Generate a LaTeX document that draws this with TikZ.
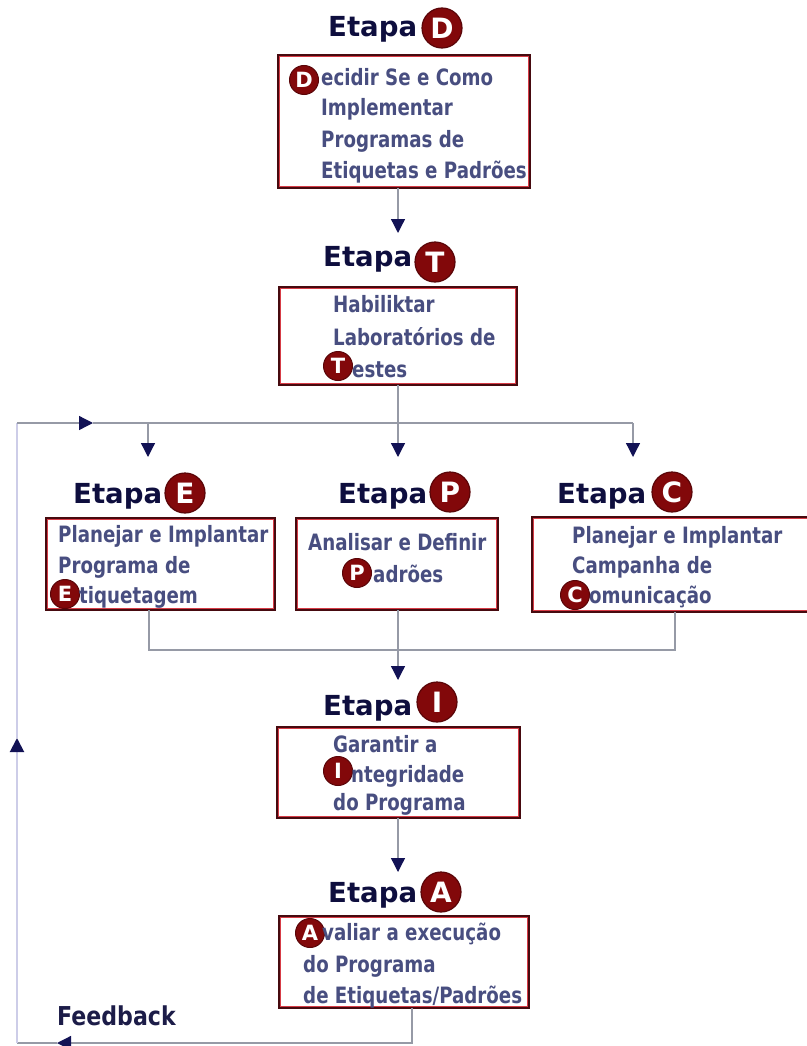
\documentclass[tikz,border=0pt]{standalone}
\usepackage{fontspec}
\usetikzlibrary{arrows.meta}
\newfontfamily\headfont{DejaVu Sans}
\newfontfamily\stepfont[FakeStretch=0.81]{DejaVu Sans}
\newfontfamily\fbfont[FakeStretch=0.85]{DejaVu Sans}
\definecolor{boxdark}{RGB}{70,10,15}
\definecolor{boxred}{RGB}{215,60,70}
\definecolor{txtblue}{RGB}{72,78,128}
\definecolor{headblue}{RGB}{14,14,62}
\definecolor{fbblue}{RGB}{28,28,72}
\definecolor{markred}{RGB}{130,8,10}
\definecolor{markdark}{RGB}{90,5,8}
\definecolor{linegrey}{RGB}{150,154,166}
\definecolor{loopline}{RGB}{205,205,232}
\definecolor{tipblue}{RGB}{18,18,85}
\begin{document}
\begin{tikzpicture}[x=1pt,y=-1pt,
  stagebox/.style={draw=boxdark,line width=2pt,fill=white,outer sep=0pt,inner sep=0pt},
  boxinner/.style={draw=boxred,line width=0.9pt},
  linetext/.style={anchor=base west,inner sep=0pt,text=txtblue,
    font=\stepfont\bfseries\fontsize{22.5}{24}\selectfont},
  etapa/.style={anchor=base west,inner sep=0pt,text=headblue,
    font=\headfont\bfseries\fontsize{27.6}{28}\selectfont},
  bigmark/.style={circle,fill=markred,draw=markdark,line width=1.2pt,
    minimum size=40pt,inner sep=0pt,text=white,
    font=\headfont\bfseries\fontsize{28}{28}\selectfont},
  smallmark/.style={circle,fill=markred,draw=markdark,line width=1pt,
    minimum size=29pt,inner sep=0pt,text=white,
    font=\headfont\bfseries\fontsize{21}{21}\selectfont},
  conn/.style={draw=linegrey,line width=1.3pt},
  loop/.style={draw=loopline,line width=2pt},
  tip/.style={-{Triangle[length=14pt,width=14pt,color=tipblue]}}
]
\useasboundingbox (0,0) rectangle (806,1046);

% ---------- stage boxes ----------
\node[stagebox,minimum width=252pt,minimum height=133pt] (bD) at (404,121.5) {};
\node[stagebox,minimum width=238pt,minimum height=98pt]  (bT) at (398,336) {};
\node[stagebox,minimum width=229pt,minimum height=92pt]  (bE) at (160.5,564) {};
\node[stagebox,minimum width=202pt,minimum height=92pt]  (bP) at (397,564) {};
\node[stagebox,minimum width=288pt,minimum height=95pt]  (bC) at (676,564.5) {};
\node[stagebox,minimum width=243pt,minimum height=91pt]  (bI) at (398.5,772.5) {};
\node[stagebox,minimum width=250pt,minimum height=92pt]  (bA) at (404,962) {};
\foreach \b in {bD,bT,bE,bP,bC,bI,bA}
  \draw[boxinner] ([shift={(1.8pt,-1.8pt)}]\b.north west) rectangle ([shift={(-1.8pt,1.8pt)}]\b.south east);

% ---------- stage headings ----------
\node[etapa] (hD) at (328,37)  {Etapa};
\node[etapa] (hT) at (323,266) {Etapa};
\node[etapa] (hE) at (73,503)  {Etapa};
\node[etapa] (hP) at (338,503) {Etapa};
\node[etapa] (hC) at (557,503) {Etapa};
\node[etapa] (hI) at (323,715) {Etapa};
\node[etapa] (hA) at (328,902) {Etapa};
\node[bigmark] (mD) at (442,28)  {D};
\node[bigmark] (mT) at (435,262) {T};
\node[bigmark] (mE) at (185,493) {E};
\node[bigmark] (mP) at (450,492) {P};
\node[bigmark] (mC) at (672,492) {C};
\node[bigmark] (mI) at (437,702) {I};
\node[bigmark] (mA) at (441,892) {A};

% ---------- box texts ----------
\node[smallmark] (sD) at (304,80) {D};
\node[linetext] (tD1) at (321,86)  {ecidir Se e Como};
\node[linetext] (tD2) at (321,116) {Implementar};
\node[linetext] (tD3) at (321,147) {Programas de};
\node[linetext] (tD4) at (321,178) {Etiquetas e Padrões};

\node[linetext] (tT1) at (333,312) {Habiliktar};
\node[linetext] (tT2) at (333,345) {Laboratórios de};
\node[smallmark] (sT) at (338,366) {T};
\node[linetext] (tT3) at (352,377) {estes};

\node[linetext] (tE1) at (58,542) {Planejar e Implantar};
\node[linetext] (tE2) at (58,573) {Programa de};
\node[smallmark] (sE) at (65,594) {E};
\node[linetext] (tE3) at (79,603) {tiquetagem};

\node[linetext] (tP1) at (308,550) {Analisar e Definir};
\node[smallmark] (sP) at (357,573) {P};
\node[linetext] (tP2) at (373,582) {adrões};

\node[linetext] (tC1) at (572,543) {Planejar e Implantar};
\node[linetext] (tC2) at (572,573) {Campanha de};
\node[smallmark] (sC) at (575,595) {C};
\node[linetext] (tC3) at (589,603) {omunicação};

\node[linetext] (tI1) at (333,752) {Garantir a};
\node[smallmark] (sI) at (338,771) {I};
\node[linetext] (tI2) at (351,782) {ntegridade};
\node[linetext] (tI3) at (333,810) {do Programa};

\node[smallmark] (sA) at (310,933) {A};
\node[linetext] (tA1) at (322,940)  {valiar a execução};
\node[linetext] (tA2) at (303,972)  {do Programa};
\node[linetext] (tA3) at (303,1003) {de Etiquetas/Padrões};

\node[anchor=base west,inner sep=0pt,text=fbblue,
  font=\fbfont\bfseries\fontsize{26}{26}\selectfont] (fb) at (57,1025) {Feedback};

% ---------- connector points ----------
\coordinate (tipT) at (398,233);
\coordinate (jT) at (398,423);
\coordinate (tipE) at (148,457);
\coordinate (tipP) at (398,457);
\coordinate (tipC) at (633,457);
\coordinate (rC) at (633,423);
\coordinate (mgE) at (149,650);
\coordinate (mgC) at (675,650);
\coordinate (tipI) at (398,680);
\coordinate (tipA) at (398,872);
\coordinate (fbDown) at (412,1043);
\coordinate (fbLeftTip) at (57,1043);
\coordinate (fbCorner) at (17,1043);
\coordinate (fbUpTip) at (17,738);
\coordinate (fbTop) at (17,423);
\coordinate (fbRightTip) at (93,423);

% ---------- connectors ----------
\draw[conn,tip] (bD.south -| tipT) -- (tipT);
\draw[conn] (bT.south -| jT) -- (jT);
\draw[conn,tip] (jT) -- (tipP);
\draw[conn,tip] (tipE |- jT) -- (tipE);
\draw[conn] (bE.south -| mgE) -- (mgE) -- (mgC) -- (bC.south -| mgC);
\draw[conn,tip] (bP.south -| tipI) -- (tipI);
\draw[conn,tip] (bI.south -| tipA) -- (tipA);

% feedback loop
\draw[conn,tip] (bA.south -| fbDown) -- (fbDown) -- (fbLeftTip);
\draw[conn] (fbLeftTip) -- (fbCorner);
\draw[loop,tip] (fbCorner) -- (fbUpTip);
\draw[loop] (fbUpTip) -- (fbTop);
\draw[conn,tip] (fbTop) -- (fbRightTip);
\draw[conn] (fbRightTip) -- (rC);
\draw[conn,tip] (rC) -- (tipC);
\end{tikzpicture}
\end{document}
